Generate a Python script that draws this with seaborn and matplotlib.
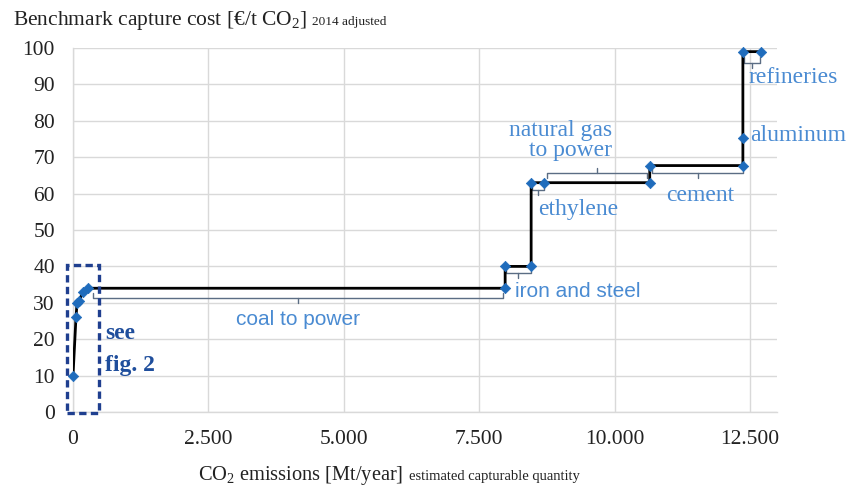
import numpy as np
import pandas as pd
import seaborn as sns
import matplotlib.pyplot as plt
from matplotlib.patches import Rectangle
from matplotlib.ticker import FuncFormatter

# Data: cost curve vertices (cumulative emissions, cost)
cum_emissions = [0, 55, 75, 110, 185, 280, 7980, 7980, 8460, 8460, 8700,
                 10650, 10650, 12370, 12370, 12370, 12700]
capture_cost = [10, 26, 30, 30.5, 33, 34, 34, 40, 40, 63, 63,
                63, 67.7, 67.7, 75.3, 99, 99]

# sector brackets: start, end, bracket level
sector_start = [370, 7990, 8470, 8760, 10700, 12395]
sector_end = [7945, 8450, 8690, 10600, 12370, 12690]
bracket_level = [31.3, 38.2, 61.0, 65.6, 65.6, 96.0]
bracket_up = [False, False, False, True, False, False]

x_ticks = [0, 2500, 5000, 7500, 10000, 12500]
y_ticks = list(range(0, 101, 10))

df = pd.DataFrame({"emissions": cum_emissions, "cost": capture_cost})

sns.set_theme(style="whitegrid")
plt.rcParams["font.family"] = ["Liberation Serif", "DejaVu Serif"]
plt.rcParams["mathtext.fontset"] = "custom"
plt.rcParams["mathtext.rm"] = "Liberation Serif"
plt.rcParams["mathtext.it"] = "Liberation Serif:italic"

fig = plt.figure(figsize=(8.57, 4.88), dpi=100)
ax = fig.add_axes([73 / 857, 76 / 488, 704 / 857, 364 / 488])

label_blue = "#4a8bd2"
mark_blue = "#1f6cbc"
brace_col = "#5b6d84"

sns.lineplot(data=df, x="emissions", y="cost", sort=False, estimator=None,
             color="black", lw=2, ax=ax, zorder=3)
sns.scatterplot(data=df, x="emissions", y="cost", marker="D", s=28,
                color=mark_blue, edgecolor=mark_blue, linewidth=0.5, ax=ax,
                zorder=4, clip_on=False)

# brackets
for x0, x1, yb, up in zip(sector_start, sector_end, bracket_level, bracket_up):
    d = -1.4 if up else 1.4
    xm = (x0 + x1) / 2
    ax.plot([x0, x0, x1, x1], [yb + d, yb, yb, yb + d], color=brace_col, lw=1, zorder=2)
    ax.plot([xm, xm], [yb, yb - d], color=brace_col, lw=1, zorder=2)

# sector labels
ax.text(4150, 25.3, "coal to power", color=label_blue, fontsize=15,
        family=["Liberation Sans"], ha="center", va="center")
ax.text(8170, 33.0, "iron and steel", color=label_blue, fontsize=15,
        family=["Liberation Sans"], ha="left", va="center")
ax.text(8590, 55.5, "ethylene", color=label_blue, fontsize=17, ha="left", va="center")
ax.text(9950, 74.6, "natural gas\nto power", color=label_blue, fontsize=17,
        ha="right", va="center", multialignment="right", linespacing=0.95)
ax.text(11575, 59.6, "cement", color=label_blue, fontsize=17, ha="center", va="center")
ax.text(12500, 76.0, "aluminum", color=label_blue, fontsize=17, ha="left", va="center")
ax.text(12480, 91.8, "refineries", color=label_blue, fontsize=17, ha="left", va="center")

# dashed box for the zoomed region
ax.add_patch(Rectangle((-110, -0.3), 590, 40.8, fill=False, edgecolor="#1f3f8f",
                       lw=2.4, linestyle=(0, (2.2, 1.3)), clip_on=False, zorder=5))
ax.text(590, 21.7, "see", color="#1f4e9c", fontsize=17, fontweight="bold", ha="left", va="center")
ax.text(590, 12.9, "fig. 2", color="#1f4e9c", fontsize=17, fontweight="bold", ha="left", va="center")

ax.set_xlim(0, 13000)
ax.set_ylim(0, 100)
ax.set_xticks(x_ticks)
ax.set_yticks(y_ticks)
ax.xaxis.set_major_formatter(FuncFormatter(lambda v, p: f"{v:,.0f}".replace(",", ".")))
ax.tick_params(axis="both", length=0, labelsize=15.5, colors="#222222")
ax.tick_params(axis="x", pad=13)
ax.tick_params(axis="y", pad=13)
ax.grid(True, color="#d9d9d9", lw=1)
for side in ["top", "right"]:
    ax.spines[side].set_visible(False)
for side in ["left", "bottom"]:
    ax.spines[side].set_color("#d9d9d9")
    ax.spines[side].set_linewidth(1)
ax.set_xlabel("")
ax.set_ylabel("")

# title and axis label with small trailing notes
renderer = fig.canvas.get_renderer()
t1 = fig.text(13 / 857, 1 - 25 / 488, "Benchmark capture cost [€/t CO$_2$]",
              fontsize=15.5, color="#222222", va="baseline")
bb = t1.get_window_extent(renderer)
fig.text((bb.x1 + 5) / 857, 1 - 25 / 488, "2014 adjusted", fontsize=9.5,
         color="#222222", va="baseline")

t2 = fig.text(198 / 857, 1 - 480 / 488, "CO$_2$ emissions [Mt/year]",
              fontsize=14.7, color="#222222", va="baseline")
bb = t2.get_window_extent(renderer)
fig.text((bb.x1 + 6) / 857, 1 - 480 / 488, "estimated capturable quantity", fontsize=10.5,
         color="#222222", va="baseline")

fig.savefig("out.png", dpi=100)
